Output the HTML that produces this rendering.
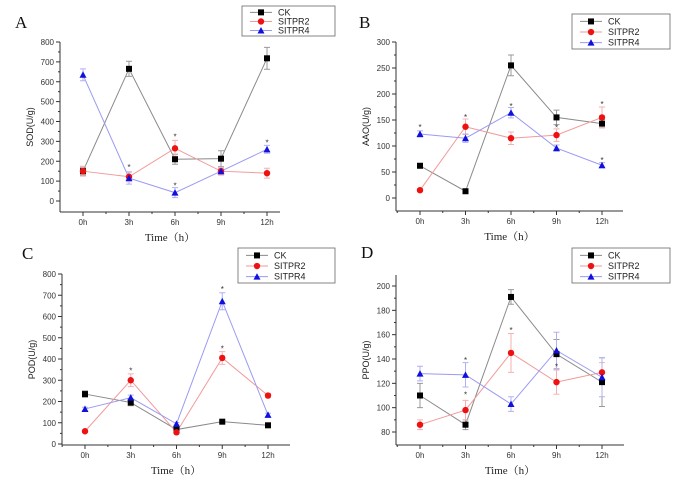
<!DOCTYPE html>
<html><head><meta charset="utf-8">
<style>
html,body{margin:0;padding:0;background:#fff;}
svg{display:block;font-family:"Liberation Sans",sans-serif;}
.tk{font-size:8px;fill:#333;}
</style></head>
<body>
<svg id="chart" width="688" height="478" viewBox="0 0 688 478" xmlns="http://www.w3.org/2000/svg"></svg>
<script>
const timeLabels=["0h","3h","6h","9h","12h"];
const seriesNames=["CK","SITPR2","SITPR4"];
// Panel A: SOD
const sodCK=[150,665,210,213,718];
const sodR2=[150,122,265,150,140];
const sodR4=[635,115,42,150,260];
const sodErr=[[20,38,25,40,55],[25,25,40,20,25],[30,30,25,15,20]];
const sodTicks=[0,100,200,300,400,500,600,700,800];
// Panel B: AAO
const aaoCK=[62,13,255,155,143];
const aaoR2=[15,137,115,121,155];
const aaoR4=[123,115,164,96,63];
const aaoErr=[[4,3,20,14,8],[3,15,12,12,20],[6,8,10,6,5]];
const aaoTicks=[0,50,100,150,200,250,300];
// Panel C: POD
const podCK=[235,195,68,105,88];
const podR2=[60,300,55,405,228];
const podR4=[165,218,95,672,137];
const podErr=[[15,15,8,6,5],[6,30,6,30,10],[8,12,6,40,8]];
const podTicks=[0,100,200,300,400,500,600,700,800];
// Panel D: PPO
const ppoCK=[110,86,191,144,121];
const ppoR2=[86,98,145,121,129];
const ppoR4=[128,127,103,147,125];
const ppoErr=[[10,4,6,12,20],[4,8,16,10,8],[6,10,6,15,16]];
const ppoTicks=[80,100,120,140,160,180,200];

const svg=document.getElementById('chart');
const NS="http://www.w3.org/2000/svg";
function mk(tag,attrs,parent){const e=document.createElementNS(NS,tag);for(const k in attrs)e.setAttribute(k,attrs[k]);(parent||svg).appendChild(e);return e;}

const lineCol=["#8a8a8a","#f29a9a","#9a9af2"];
const markCol=["#000","#ee1111","#1111dd"];
const errCol=["#999","#f5b0b0","#b0b0f5"];

function panel(cfg){
  const g=mk('g',{});
  
  
  const yS=v=>cfg.y0px+(v-cfg.v0)*(cfg.y1px-cfg.y0px)/(cfg.v1-cfg.v0);
  const xS=i=>cfg.x0px+i*(cfg.x12px-cfg.x0px)/4;
  const ax=cfg.axX, ab=cfg.axBottom;
  // axes
  const ya=mk('line',{x1:ax,y1:cfg.axTop,x2:ax,y2:ab,stroke:'#333','stroke-width':1},g);
  
  const xa=mk('line',{x1:ax,y1:ab,x2:cfg.axRight,y2:ab,stroke:'#333','stroke-width':1},g);
  
  cfg.ticks.forEach((t,k)=>{
    const y=yS(t);
    mk('line',{x1:ax-4,y1:y,x2:ax,y2:y,stroke:'#333'},g);
    if(k<cfg.ticks.length-1){const ym=yS(t+(cfg.ticks[1]-cfg.ticks[0])/2);mk('line',{x1:ax-2,y1:ym,x2:ax,y2:ym,stroke:'#333'},g);}
    const tl=mk('text',{x:ax-6,y:y+3,'text-anchor':'end',class:'tk'},g);tl.textContent=t;
    
  });
  const step=(cfg.x12px-cfg.x0px)/4;
  for(let i=-1;i<=5;i++){
    const x=xS(i);
    if(x>ax&&x<=cfg.axRight) mk('line',{x1:x,y1:ab,x2:x,y2:ab+4,stroke:'#333'},g);
    const xm=x+step/2;
    if(xm>ax&&xm<=cfg.axRight) mk('line',{x1:xm,y1:ab,x2:xm,y2:ab+2,stroke:'#333'},g);
  }
  timeLabels.forEach((l,i)=>{
    const tl=mk('text',{x:xS(i),y:ab+13,'text-anchor':'middle',class:'tk'},g);tl.textContent=l;
    
  });
  // titles
  const lt=mk('text',{x:cfg.letterX,y:cfg.letterY,'font-family':'Liberation Serif','font-size':17,fill:'#111'},g);lt.textContent=cfg.id;
  
  const yt=mk('text',{x:0,y:0,'font-size':9,fill:'#222','text-anchor':'middle',transform:`translate(${ax-27},${(cfg.axTop+ab)/2}) rotate(-90)`},g);yt.textContent=cfg.ytitle;
  
  const xt=mk('text',{x:(ax+cfg.axRight)/2,y:ab+29,'text-anchor':'middle','font-family':'Liberation Serif, Noto Serif CJK SC, serif','font-size':11,fill:'#222'},g);xt.textContent='Time（h）';
  
  // series
  cfg.series.forEach((vals,s)=>{
    const pts=vals.map((v,i)=>xS(i)+','+yS(v)).join(' ');
    const pl=mk('polyline',{points:pts,fill:'none',stroke:lineCol[s],'stroke-width':1},g);
    
    vals.forEach((v,i)=>{
      const x=xS(i),e=cfg.err[s][i];
      const eb=mk('path',{d:`M${x},${yS(v-e)}V${yS(v+e)}M${x-3},${yS(v-e)}h6M${x-3},${yS(v+e)}h6`,stroke:errCol[s],fill:'none','stroke-width':1},g);
      
    });
  });
  cfg.series.forEach((vals,s)=>{
    vals.forEach((v,i)=>{
      const m=marker(g,s,xS(i),yS(v));
      
      
    });
  });
  cfg.stars.forEach(st=>{
    const t=mk('text',{x:xS(st[0]),y:yS(st[1])+3,'text-anchor':'middle','font-size':8,fill:'#333'},g);t.textContent='*';
    
  });
  // legend
  const L=cfg.leg;
  const lg=mk('g',{},g);
  
  mk('rect',{x:L[0],y:L[1],width:L[2],height:L[3],fill:'#fff',stroke:'#666','stroke-width':0.8},lg);
  seriesNames.forEach((n,s)=>{
    const y=L[1]+L[3]*(s+0.7)/3.3;
    const e=mk('g',{},lg);
    
    mk('line',{x1:L[0]+8,y1:y,x2:L[0]+30,y2:y,stroke:lineCol[s]},e);
    marker(e,s,L[0]+19,y);
    const t=mk('text',{x:L[0]+36,y:y+3,'font-size':9,fill:'#222'},e);t.textContent=n;
  });
}
function marker(g,s,x,y){
  if(s===0) return mk('rect',{x:x-3,y:y-3,width:6,height:6,fill:'#000'},g);
  if(s===1) return mk('circle',{cx:x,cy:y,r:3.2,fill:'#ee1111'},g);
  return mk('path',{d:`M${x},${y-3.5}L${x+3.5},${y+3}L${x-3.5},${y+3}Z`,fill:'#1111dd'},g);
}

panel({id:'A',ytitle:'SOD(U/g)',v0:0,v1:800,y0px:201,y1px:42,x0px:83,x12px:267,axX:60,axTop:42,axBottom:212,axRight:280,
  series:[sodCK,sodR2,sodR4],err:sodErr,ticks:sodTicks,letterX:15,letterY:28,leg:[242,6,93,30],
  stars:[[1,170],[2,325],[2,78],[4,295]]});
panel({id:'B',ytitle:'AAO(U/g)',v0:0,v1:300,y0px:198,y1px:42,x0px:420,x12px:602,axX:396,axTop:42,axBottom:211,axRight:623,
  series:[aaoCK,aaoR2,aaoR4],err:aaoErr,ticks:aaoTicks,letterX:359,letterY:28,leg:[572,14,98,35],
  stars:[[0,137],[1,156],[2,177],[3,136],[4,181],[4,73]]});
panel({id:'C',ytitle:'POD(U/g)',v0:0,v1:800,y0px:444,y1px:274,x0px:85,x12px:268,axX:62,axTop:274,axBottom:445,axRight:290,
  series:[podCK,podR2,podR4],err:podErr,ticks:podTicks,letterX:22,letterY:259,leg:[238,248,97,35],
  stars:[[1,345],[3,450],[3,730]]});
panel({id:'D',ytitle:'PPO(U/g)',v0:80,v1:200,y0px:432,y1px:286,x0px:420,x12px:602,axX:396,axTop:275,axBottom:445,axRight:624,
  series:[ppoCK,ppoR2,ppoR4],err:ppoErr,ticks:ppoTicks,letterX:361,letterY:258,leg:[572,248,98,35],
  stars:[[1,139],[1,111],[2,164],[3,134]]});
</script>
</body></html>
